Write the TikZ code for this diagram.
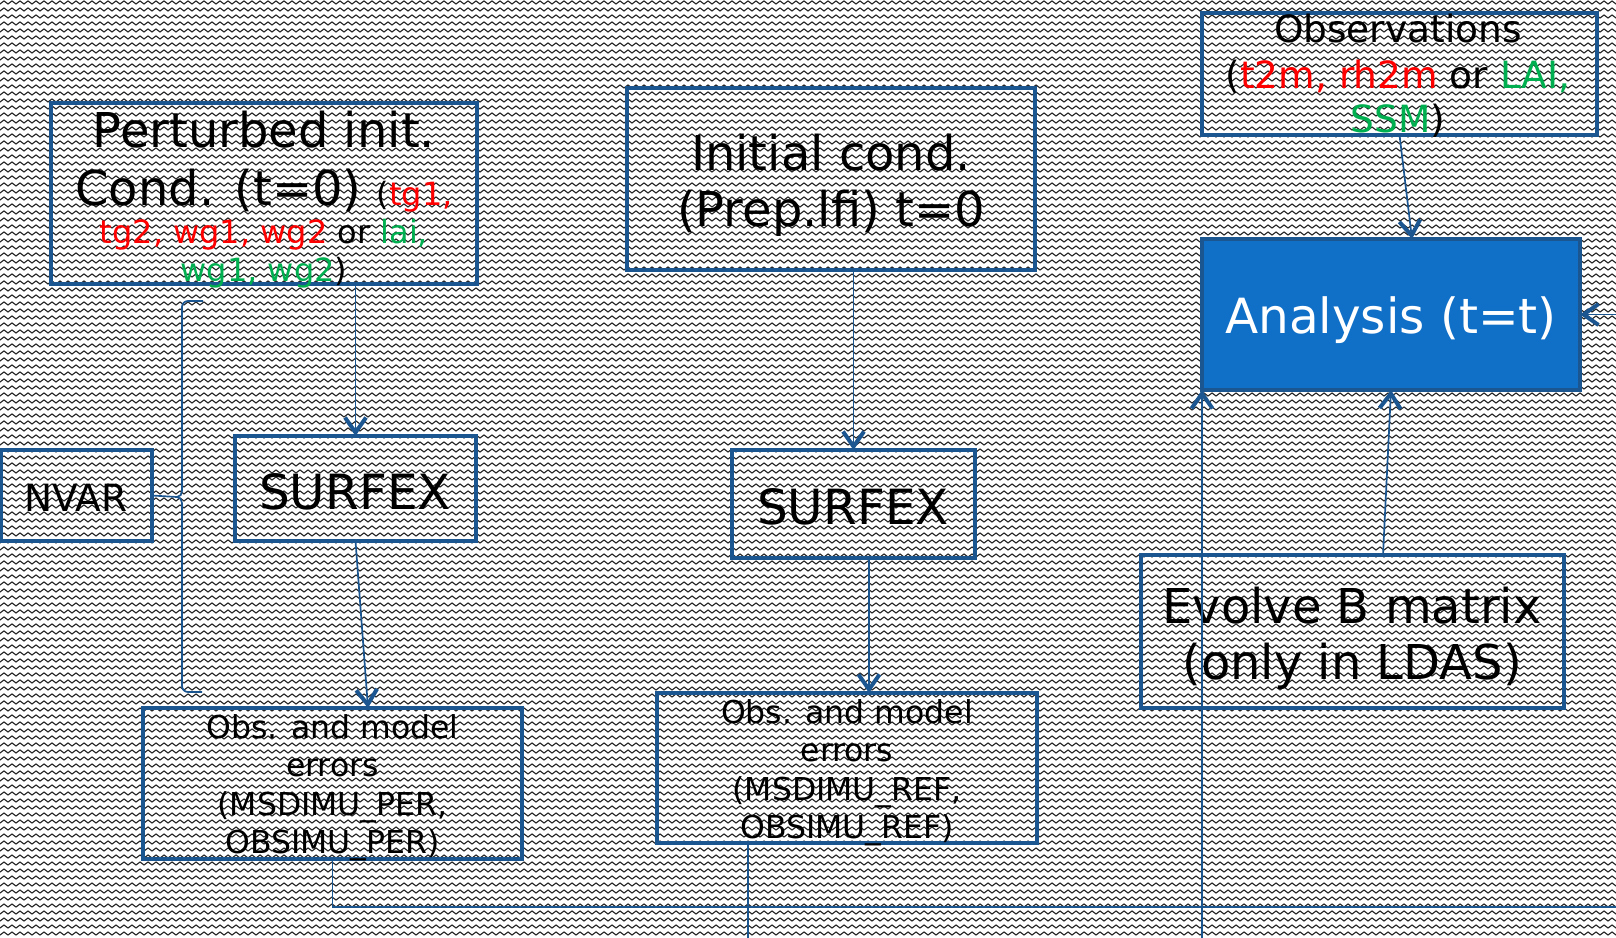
\documentclass[tikz,border=0pt]{standalone}
\usepackage{fontspec}
\setmainfont{DejaVu Sans}
\usetikzlibrary{arrows.meta,patterns,calc}
\definecolor{bord}{RGB}{27,86,145}
\definecolor{anfill}{RGB}{16,112,200}
\definecolor{rd}{RGB}{255,0,0}
\definecolor{gn}{RGB}{0,176,80}
\newcommand{\myfs}[1]{\fontsize{#1}{#1}\selectfont}
\pgfdeclarepatternformonly{zigzagbg}{\pgfqpoint{-1pt}{-1pt}}{\pgfqpoint{9pt}{8pt}}{\pgfqpoint{8pt}{7pt}}{%
  \pgfsetlinewidth{1.1pt}%
  \pgfsetroundcap
  \pgfpathmoveto{\pgfqpoint{0pt}{2pt}}%
  \pgfpathlineto{\pgfqpoint{4pt}{5pt}}%
  \pgfpathlineto{\pgfqpoint{8pt}{2pt}}%
  \pgfusepath{stroke}%
}
\begin{document}
\begin{tikzpicture}[x=1pt,y=-1pt,
  box/.style={draw=bord, line width=4.5pt, inner sep=0pt, outer sep=0pt},
  txt/.style={anchor=base, inner sep=0pt, outer sep=0pt},
  conn/.style={draw=bord, line width=1.7pt},
  arr/.style={conn, -{Straight Barb[length=15pt,width=21pt,line width=4pt]}}]
\useasboundingbox (0,0) rectangle (1616,937);
\fill[white] (0,0) rectangle (1616,937);
\fill[pattern=zigzagbg, pattern color=black!85] (0,0) rectangle (1616,937);

% boxes
\node[box, minimum width=426pt, minimum height=181pt] (pert) at (264,193.5) {};
\node[box, minimum width=408pt, minimum height=182pt] (init) at (831,179) {};
\node[box, minimum width=395pt, minimum height=122pt] (obsv) at (1399.5,74) {};
\node[box, fill=anfill, minimum width=378pt, minimum height=151pt] (anal) at (1391,314.5) {};
\node[box, minimum width=151pt, minimum height=91pt] (nvar) at (76.5,495.5) {};
\node[box, minimum width=241pt, minimum height=105pt] (surf1) at (355.5,488.5) {};
\node[box, minimum width=243pt, minimum height=108pt] (surf2) at (853.5,504) {};
\node[box, minimum width=423pt, minimum height=153pt] (evol) at (1352.5,631.5) {};
\node[box, minimum width=379pt, minimum height=151pt] (obs1) at (332.5,783.5) {};
\node[box, minimum width=380pt, minimum height=150pt] (obs2) at (847,768) {};

% texts
\node[txt] (pt1) at (264,147) {\myfs{48}Perturbed init.};
\node[txt] (pt2) at (264,205) {\myfs{48}Cond. (t=0) {\myfs{32}(\textcolor{rd}{tg1,}}};
\node[txt] (pt3) at (264,243) {\myfs{32}\textcolor{rd}{tg2, wg1, wg2} or \textcolor{gn}{lai,}};
\node[txt] (pt4) at (264,281) {\myfs{32}\textcolor{gn}{wg1, wg2})};

\node[txt] (in1) at (831,170) {\myfs{48}Initial cond.};
\node[txt] (in2) at (831,226) {\myfs{48}(Prep.lfi) t=0};

\node[txt] (ob1) at (1398,42) {\myfs{37.5}Observations};
\node[txt] (ob2) at (1398,88) {\myfs{37.5}(\textcolor{rd}{t2m, rh2m} or \textcolor{gn}{LAI,}};
\node[txt] (ob3) at (1398,132) {\myfs{37.5}\textcolor{gn}{SSM})};

\node[txt, text=white] (an1) at (1391,333) {\myfs{48.5}Analysis (t=t)};
\node[txt] (sf1) at (355,509) {\myfs{48.5}SURFEX};
\node[txt] (sf2) at (853,524) {\myfs{48.5}SURFEX};
\node[txt] (nv1) at (76,511) {\myfs{37.5}NVAR};
\node[txt] (ev1) at (1352,623) {\myfs{48}Evolve B matrix};
\node[txt] (ev2) at (1352,679) {\myfs{48}(only in LDAS)};

\node[txt] (oa1) at (332.5,738) {\myfs{31.5}Obs. and model};
\node[txt] (oa2) at (332.5,776.5) {\myfs{31.5}errors};
\node[txt] (oa3) at (332.5,815) {\myfs{31.5}(MSDIMU\_PER,};
\node[txt] (oa4) at (332.5,853.5) {\myfs{31.5}OBSIMU\_PER)};

\node[txt] (ob21) at (847,723) {\myfs{31.5}Obs. and model};
\node[txt] (ob22) at (847,761) {\myfs{31.5}errors};
\node[txt] (ob23) at (847,800) {\myfs{31.5}(MSDIMU\_REF,};
\node[txt] (ob24) at (847,838) {\myfs{31.5}OBSIMU\_REF)};

% free ends
\coordinate (bottomA) at (1202,940);
\coordinate (rightA) at (1620,314.5);
\coordinate (cornerB) at (332.5,907);
\coordinate (rightB) at (1620,907);
\coordinate (bottomC) at (748,940);
\coordinate (brT) at (203,301);
\coordinate (brB) at (202,692);

% connectors
\draw[arr] (pert.south -| surf1.north) -- (surf1.north);
\draw[arr] (surf1.south) -- ($(obs1.north)+(35.5,0)$);
\draw[arr] (init.south -| surf2.north) -- (surf2.north);
\draw[arr] ($(surf2.south)+(15.5,0)$) -- ($(obs2.north)+(22,0)$);
\draw[arr] (obsv.south) -- ($(anal.north)+(21,0)$);
\draw[arr] ($(evol.north)+(30.5,0)$) -- (anal.south);
\draw[arr] (bottomA) -- (anal.south west);
\draw[arr] (rightA) -- (anal.east);
\draw[conn] (obs1.south) -- (cornerB) -- (rightB);
\draw[conn] ($(obs2.south)+(-99,0)$) -- (bottomC);

% brace
\draw[conn] (brT) -- (188,301) to[out=180,in=90] (182,307) -- (182,491)
  to[out=-90,in=0] (177,497) -- (nvar.east);
\draw[conn] (177,497) to[out=0,in=90] (182,503) -- (182,686)
  to[out=-90,in=180] (188,692) -- (brB);
\end{tikzpicture}
\end{document}
